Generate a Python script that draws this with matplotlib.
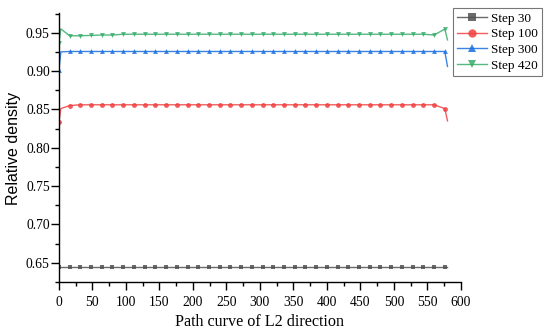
import matplotlib
matplotlib.use("Agg")
import matplotlib.pyplot as plt
from matplotlib.ticker import MultipleLocator, FormatStrFormatter

plt.rcParams['font.family'] = ['Liberation Serif', 'DejaVu Serif']

# Path positions (units along L2 direction)
x_pos = [0, 3, 16, 32, 48, 64, 80, 96, 112, 128, 144, 160, 176, 192, 208, 224,
         240, 256, 272, 288, 304, 320, 336, 352, 368, 384, 400, 416, 432, 448,
         464, 480, 496, 512, 528, 544, 560, 576, 580]

step30 = [0.645, 0.645, 0.645, 0.645, 0.645, 0.645, 0.645, 0.645, 0.645, 0.645,
          0.645, 0.645, 0.645, 0.645, 0.645, 0.645, 0.645, 0.645, 0.645, 0.645,
          0.645, 0.645, 0.645, 0.645, 0.645, 0.645, 0.645, 0.645, 0.645, 0.645,
          0.645, 0.645, 0.645, 0.645, 0.645, 0.645, 0.645, 0.645, 0.645]

step100 = [0.833, 0.851, 0.855, 0.856, 0.856, 0.856, 0.856, 0.856, 0.856, 0.856,
           0.856, 0.856, 0.856, 0.856, 0.856, 0.856, 0.856, 0.856, 0.856, 0.856,
           0.856, 0.856, 0.856, 0.856, 0.856, 0.856, 0.856, 0.856, 0.856, 0.856,
           0.856, 0.856, 0.856, 0.856, 0.856, 0.856, 0.856, 0.851, 0.835]

step300 = [0.901, 0.925, 0.9255, 0.9255, 0.9255, 0.9255, 0.9255, 0.9255, 0.9255, 0.9255,
           0.9255, 0.9255, 0.9255, 0.9255, 0.9255, 0.9255, 0.9255, 0.9255, 0.9255, 0.9255,
           0.9255, 0.9255, 0.9255, 0.9255, 0.9255, 0.9255, 0.9255, 0.9255, 0.9255, 0.9255,
           0.9255, 0.9255, 0.9255, 0.9255, 0.9255, 0.9255, 0.9255, 0.9255, 0.906]

step420 = [0.936, 0.955, 0.946, 0.946, 0.9465, 0.947, 0.947, 0.948, 0.948, 0.948,
           0.948, 0.948, 0.948, 0.948, 0.948, 0.948, 0.948, 0.948, 0.948, 0.948,
           0.948, 0.948, 0.948, 0.948, 0.948, 0.948, 0.948, 0.948, 0.948, 0.948,
           0.948, 0.948, 0.948, 0.948, 0.948, 0.948, 0.947, 0.9547, 0.9406]

labels = ['Step 30', 'Step 100', 'Step 300', 'Step 420']
colors = ['#515151', '#F14040', '#1A6FDF', '#37AD6B']
markers = ['s', 'o', '^', 'v']
series = [step30, step100, step300, step420]

# markers only on the regular sample positions
mark_idx = [0] + list(range(2, 38))

fig = plt.figure(figsize=(5.5, 3.35), dpi=100)
ax = fig.add_axes([0.107, 0.157, 0.731, 0.804])

for y, lab, c, m in zip(series, labels, colors, markers):
    ax.plot(x_pos, y, color=c, lw=1.0, alpha=0.85, marker=m, markersize=3.5,
            markevery=mark_idx, markeredgewidth=0, label=lab)

ax.set_xlim(0, 600)
ax.set_ylim(0.6244, 0.9756)
ax.xaxis.set_major_locator(MultipleLocator(50))
ax.xaxis.set_minor_locator(MultipleLocator(25))
ax.yaxis.set_major_locator(MultipleLocator(0.05))
ax.yaxis.set_minor_locator(MultipleLocator(0.025))
ax.yaxis.set_major_formatter(FormatStrFormatter('%.2f'))

for s in ['top', 'right']:
    ax.spines[s].set_visible(False)
for s in ['left', 'bottom']:
    ax.spines[s].set_linewidth(1.0)

ax.tick_params(which='major', direction='out', length=5.5, width=1, labelsize=9.8)
ax.tick_params(which='minor', direction='out', length=3, width=1)
ax.tick_params(axis='y', which='major', pad=1)
ax.tick_params(axis='x', which='major', pad=4.5)

ax.set_xlabel('Path curve of L2 direction', fontsize=11.6)
ax.xaxis.set_label_coords(0.5, -0.148)
ax.xaxis.label.set_va('center')
ax.set_ylabel('Relative density', fontsize=11.5,
              fontfamily=['Liberation Sans', 'DejaVu Sans'])
ax.yaxis.set_label_coords(-0.113, 0.496)
ax.yaxis.label.set_va('center')

leg = ax.legend(loc='upper left', bbox_to_anchor=(0.8236, 0.975),
                bbox_transform=fig.transFigure, borderaxespad=0,
                fontsize=9.5, frameon=True, fancybox=False, handlelength=2.3,
                labelspacing=0.26, borderpad=0.3, handletextpad=0.3)
leg.get_frame().set_edgecolor('#555555')
leg.get_frame().set_linewidth(0.8)
for h in leg.legend_handles:
    h.set_markersize(6)

fig.savefig('out.png', dpi=100)
